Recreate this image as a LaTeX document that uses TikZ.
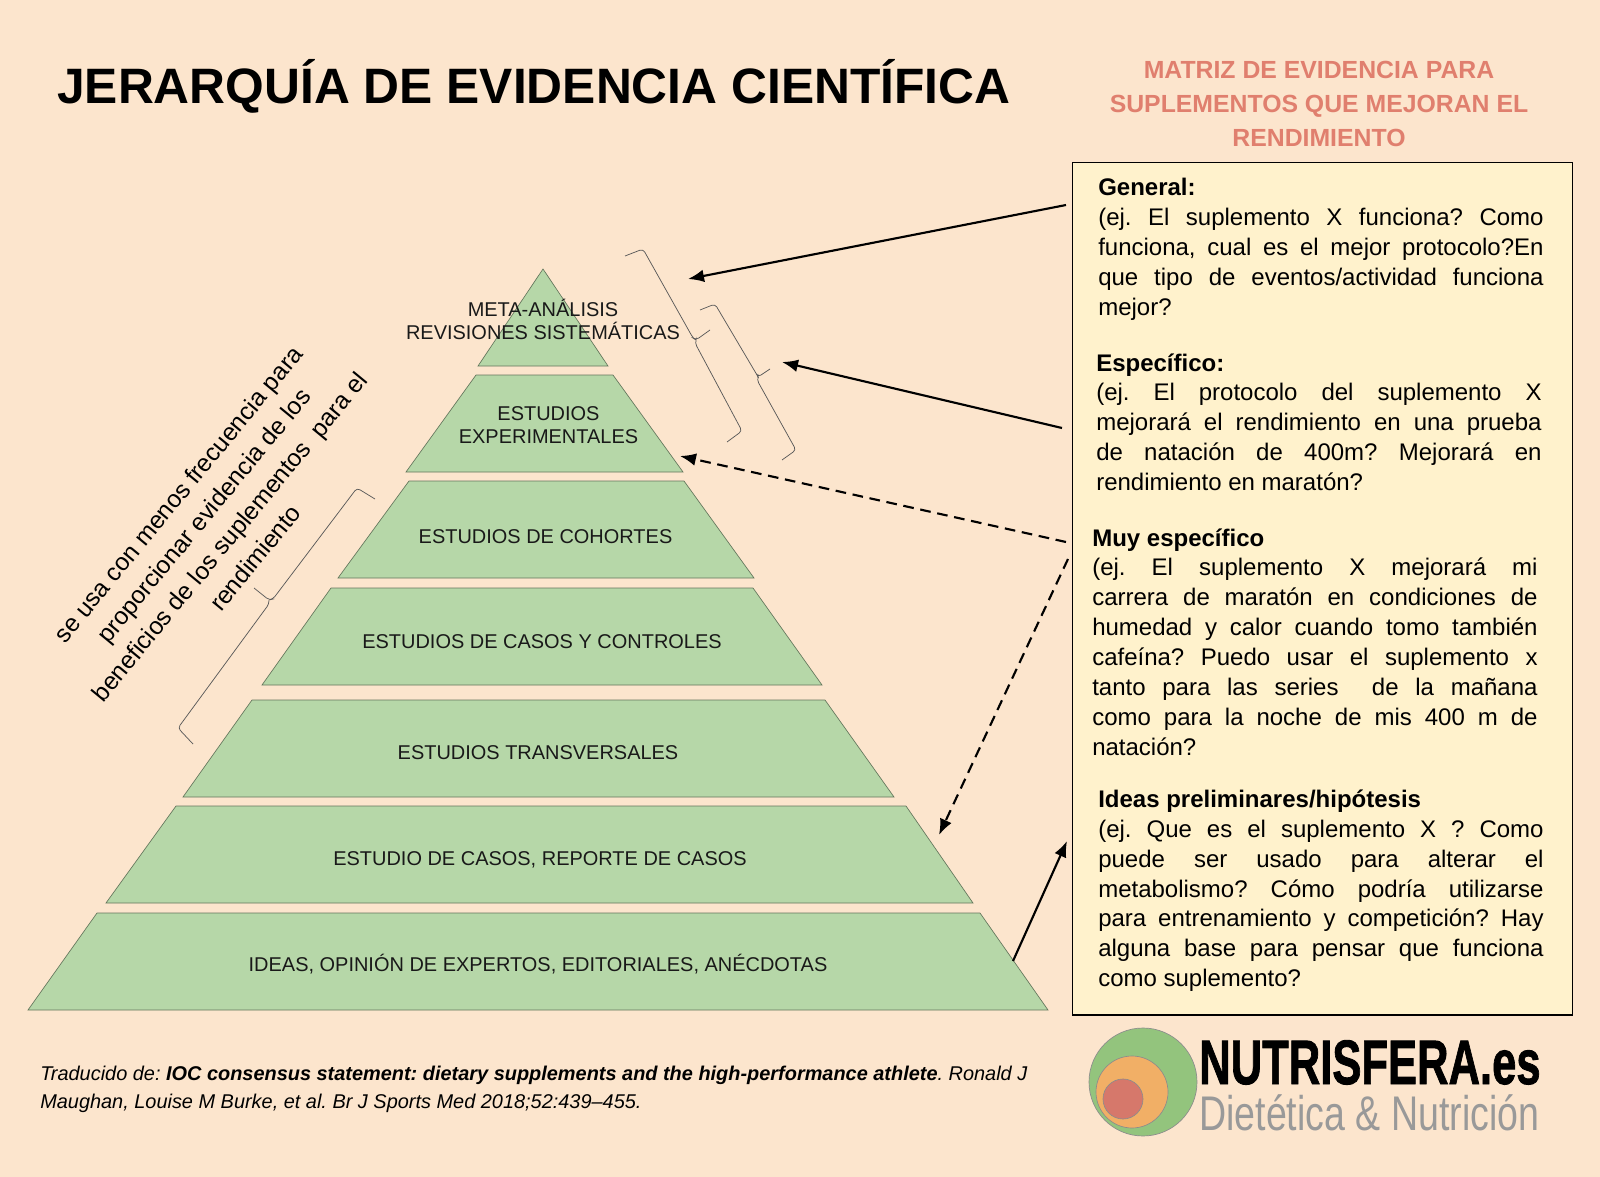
\documentclass[tikz,border=0pt]{standalone}
\usepackage{fontspec}
\setmainfont{Liberation Sans}
\newfontfamily\brandfont[BoldFeatures={FakeBold=1.5}]{Liberation Sans}
\usetikzlibrary{arrows.meta}
\definecolor{bgc}{HTML}{FCE5CD}
\definecolor{boxc}{HTML}{FFF2CC}
\definecolor{tierc}{HTML}{B6D7A8}
\definecolor{coral}{HTML}{E07F6E}
\definecolor{logog}{HTML}{93C47D}
\definecolor{logoo}{HTML}{F1AF66}
\definecolor{logor}{HTML}{D6786B}
\definecolor{logot}{HTML}{999999}
\tikzset{
 x=0.75pt,y=-0.75pt,
 tier/.style={fill=tierc,draw=black!45!tierc,line width=0.5pt},
 tierlabel/.style={font=\fontsize{14.97}{17.3}\selectfont,align=center,text=black!90},
 bracepath/.style={draw=black!65,line width=0.55pt,rounded corners=2.5pt},
 solidarrow/.style={-{Latex[length=12pt,width=9.5pt]},line width=1.6pt},
 dasharrow/.style={solidarrow,dash pattern=on 8pt off 5pt},
 para/.style={anchor=base west,align=justify,inner sep=0pt,font=\frenchspacing\fontsize{18}{22.4}\selectfont},
 disc/.style={line width=0.5pt,draw=black!45},
}
\begin{document}
\begin{tikzpicture}
\useasboundingbox[fill=bgc] (0,0) rectangle (1600,1177);
% title
\node[anchor=base west,inner sep=0pt,font=\fontsize{37.3}{40}\bfseries\selectfont] (title) at (57,104) {JERARQUÍA DE EVIDENCIA CIENTÍFICA};
\node[anchor=center,inner sep=0pt,align=center,text=coral,font=\fontsize{18.6}{25.6}\bfseries\selectfont] (mtitle) at (1319,104) {MATRIZ DE EVIDENCIA PARA\\SUPLEMENTOS QUE MEJORAN EL\\RENDIMIENTO};
% pyramid
\path[tier] (543,269) -- (608,366) -- (478,366) -- cycle;
\path[tier] (476,375) -- (613,375) -- (683,472) -- (406,472) -- cycle;
\path[tier] (409,481) -- (684,481) -- (754,578) -- (338,578) -- cycle;
\path[tier] (331,588) -- (753,588) -- (822,685) -- (262,685) -- cycle;
\path[tier] (252,700) -- (825,700) -- (894,797) -- (183,797) -- cycle;
\path[tier] (176,806) -- (906,806) -- (973,903) -- (106,903) -- cycle;
\path[tier] (97,913) -- (980,913) -- (1048,1010) -- (28,1010) -- cycle;
\node[tierlabel] (t1) at (543,319.5) {META-ANÁLISIS\\REVISIONES SISTEMÁTICAS};
\node[tierlabel] (t2) at (548.5,425) {ESTUDIOS\\EXPERIMENTALES};
\node[tierlabel] (t3) at (545.5,537) {ESTUDIOS DE COHORTES};
\node[tierlabel] (t4) at (542,642) {ESTUDIOS DE CASOS Y CONTROLES};
\node[tierlabel] (t5) at (538,753) {ESTUDIOS TRANSVERSALES};
\node[tierlabel] (t6) at (540,860) {ESTUDIO DE CASOS, REPORTE DE CASOS};
\node[tierlabel] (t7) at (538,964) {IDEAS, OPINIÓN DE EXPERTOS, EDITORIALES, ANÉCDOTAS};
% braces
\draw[bracepath] (625,256) -- (643,249) -- (693,338) -- (696,340) -- (710,330);
\draw[bracepath] (696,340) -- (695,343) -- (742,431) -- (727,442);
\draw[bracepath] (700,310) -- (715,304) -- (757,375) -- (758,377) -- (770,369);
\draw[bracepath] (758,377) -- (757,380) -- (796,450) -- (782,460);
\draw[bracepath] (375,499) -- (357,488) -- (273,599) -- (269,600) -- (254,588);
\draw[bracepath] (269,600) -- (269,604) -- (178,728) -- (193,744);
% rotated note
\node[rotate=50.5,align=center,inner sep=0pt,font=\fontsize{18.4}{25}\selectfont] (note) at (216.5,526) {se usa con menos frecuencia para\\proporcionar evidencia de los\\beneficios de los suplementos\ \ para el\\rendimiento};
% box
\draw[fill=boxc,line width=0.8pt] (1072.5,162.5) rectangle (1572.5,1015);
\node[para,text width=334pt] (g) at (1098,196) {\textbf{General:}\\(ej. El suplemento X funciona? Como\linebreak funciona, cual es el mejor protocolo?En\linebreak que tipo de eventos/actividad funciona\linebreak mejor?};
\node[para,text width=334pt] (e) at (1096,371) {\textbf{Específico:}\\(ej. El protocolo del suplemento X\linebreak mejorará el rendimiento en una prueba\linebreak de natación de 400m? Mejorará en\linebreak rendimiento en maratón?};
\node[para,text width=334pt] (m) at (1092,546) {\textbf{Muy específico}\\(ej. El suplemento X mejorará mi\linebreak carrera de maratón en condiciones de\linebreak humedad y calor cuando tomo también\linebreak cafeína? Puedo usar el suplemento x\linebreak tanto para las series\ \ de la mañana\linebreak como para la noche de mis 400 m de\linebreak natación?};
\node[para,text width=334pt] (i) at (1098,807.5) {\textbf{Ideas preliminares/hipótesis}\\(ej. Que es el suplemento X ? Como\linebreak puede ser usado para alterar el\linebreak metabolismo? Cómo podría utilizarse\linebreak para entrenamiento y competición? Hay\linebreak alguna base para pensar que funciona\linebreak como suplemento?};
% arrows
\coordinate (a1s) at (1066,205); \coordinate (a1e) at (688,279);
\coordinate (a2s) at (1062,428); \coordinate (a2e) at (782,362);
\coordinate (a3s) at (1066,542); \coordinate (a3e) at (680,456);
\coordinate (a4s) at (1068,559); \coordinate (a4e) at (939,835);
\coordinate (a5s) at (1013,961); \coordinate (a5e) at (1067,841);
\draw[solidarrow] (a1s) -- (a1e);
\draw[solidarrow] (a2s) -- (a2e);
\draw[dasharrow] (a3s) -- (a3e);
\draw[dasharrow] (a4s) -- (a4e);
\draw[solidarrow] (a5s) -- (a5e);
% credit
\node[anchor=base west,inner sep=0pt,align=left,font=\frenchspacing\fontsize{14.94}{20.5}\itshape\selectfont] (credit) at (40,1108) {Traducido de: \textbf{IOC consensus statement: dietary supplements and the high-performance athlete}. Ronald J\\Maughan, Louise M Burke, et al. Br J Sports Med 2018;52:439–455.};
% logo
\draw[disc,fill=logog] (1143,1082) circle (54);
\draw[disc,fill=logoo] (1132,1092) circle (36);
\draw[disc,fill=logor] (1123,1099) circle (20);
\node[anchor=base west,inner sep=0pt,font=\fontsize{47}{50}\brandfont\bfseries\selectfont] (brand) at (1199,1084) {\resizebox{256pt}{\height}{NUTRISFERA.es}};
\node[anchor=base west,inner sep=0pt,text=logot,font=\fontsize{36.5}{40}\selectfont] (sub) at (1199,1130) {\resizebox{255pt}{\height}{Dietética \& Nutrición}};
\end{tikzpicture}
\end{document}
